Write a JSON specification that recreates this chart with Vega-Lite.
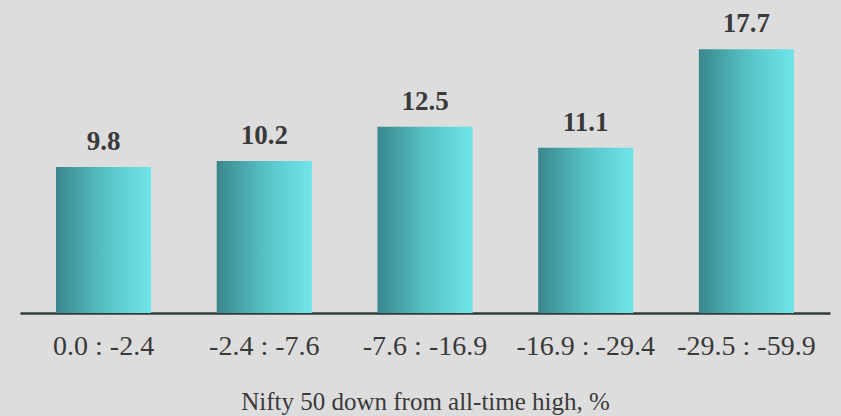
{
  "$schema": "https://vega.github.io/schema/vega-lite/v6.json",
  "width": 810,
  "height": 303,
  "autosize": "none",
  "padding": {"left": 20, "top": 10, "right": 11, "bottom": 103},
  "background": "#dddddd",
  "config": {"view": {"stroke": null}},
  "data": {
    "values": [
      {"range": "0.0 : -2.4", "value": 9.8},
      {"range": "-2.4 : -7.6", "value": 10.2},
      {"range": "-7.6 : -16.9", "value": 12.5},
      {"range": "-16.9 : -29.4", "value": 11.1},
      {"range": "-29.5 : -59.9", "value": 17.7}
    ]
  },
  "encoding": {
    "x": {
      "field": "range",
      "type": "nominal",
      "sort": null,
      "scale": {"paddingInner": 0.408, "paddingOuter": 0.224},
      "axis": {
        "title": "Nifty 50 down from all-time high, %",
        "labelAngle": 0,
        "ticks": false,
        "domainColor": "#333b3b",
        "domainWidth": 2.5,
        "labelFont": "Liberation Serif",
        "labelFontSize": 28,
        "labelColor": "#3a3a3a",
        "labelPadding": 19,
        "titleFont": "Liberation Serif",
        "titleFontSize": 25,
        "titleFontWeight": "normal",
        "titleColor": "#3a3a3a",
        "titleBaseline": "alphabetic",
        "titleY": 96
      }
    },
    "y": {
      "field": "value",
      "type": "quantitative",
      "scale": {"domain": [0, 20.34], "nice": false},
      "axis": null
    }
  },
  "layer": [
    {
      "mark": {
        "type": "bar",
        "color": {
          "gradient": "linear",
          "x1": 0, "x2": 1, "y1": 0, "y2": 0,
          "stops": [
            {"offset": 0, "color": "#3a878c"},
            {"offset": 0.5, "color": "#56c1c5"},
            {"offset": 1, "color": "#70e6ea"}
          ]
        }
      }
    },
    {
      "mark": {
        "type": "text",
        "baseline": "alphabetic",
        "dy": -17,
        "font": "Liberation Serif",
        "fontSize": 27,
        "fontWeight": "bold",
        "color": "#3a3a3a"
      },
      "encoding": {"text": {"field": "value", "type": "quantitative", "format": ".1f"}}
    }
  ]
}
